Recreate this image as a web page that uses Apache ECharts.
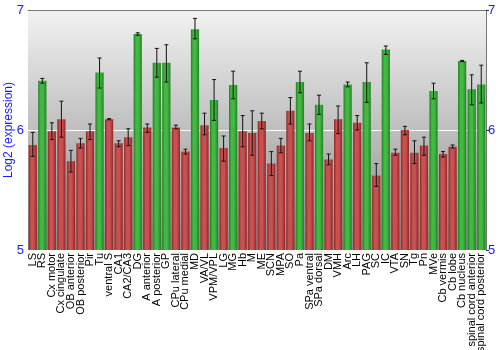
<!DOCTYPE html>
<html><head><meta charset="utf-8">
<script src="https://cdn.jsdelivr.net/npm/echarts@6/dist/echarts.min.js"></script>
<style>html,body{margin:0;padding:0;background:#fff}#c{width:500px;height:350px}</style>
</head><body><div id="c"></div>
<script>
const categories = ["LS","RS","Cx motor","Cx cingulate","OB anterior","OB posterior","Pir","Tu","ventral S","CA1","CA2/CA3","DG","A anterior","A posterior","GP","CPu lateral","CPu medial","MD","VA/VL","VPM/VPL","LG","MG","Hb","M","ME","SCN","MPA","SO","Pa","SPa ventral","SPa dorsal","DM","VMH","Arc","LH","PAG","SC","IC","VTA","SN","Tg","Pn","MVe","Cb vermis","Cb lobe","Cb nucleus","spinal cord anterior","spinal cord posterior"];
const values = [5.875,6.41,5.99,6.09,5.74,5.89,5.99,6.48,6.09,5.89,5.94,6.80,6.02,6.56,6.56,6.02,5.82,6.84,6.04,6.25,5.85,6.375,5.99,5.975,6.075,5.72,5.87,6.16,6.40,5.975,6.21,5.755,6.09,6.38,6.06,6.40,5.62,6.67,5.81,6.00,5.81,5.87,6.325,5.80,5.86,6.575,6.34,6.38];
const errHigh = [5.98,6.43,6.06,6.24,5.83,5.93,6.05,6.60,6.095,5.91,6.01,6.81,6.05,6.68,6.71,6.04,5.84,6.93,6.14,6.42,5.95,6.49,6.12,6.16,6.14,5.82,5.93,6.27,6.49,6.05,6.29,5.80,6.20,6.40,6.12,6.56,5.72,6.70,5.84,6.03,5.91,5.94,6.39,5.82,5.875,6.58,6.46,6.54];
const errLow = [5.78,6.39,5.92,5.94,5.65,5.85,5.92,6.35,6.085,5.86,5.87,6.79,5.98,6.44,6.40,6.01,5.80,6.76,5.96,6.08,5.74,6.26,5.86,5.79,6.01,5.62,5.81,6.05,6.31,5.91,6.13,5.71,5.97,6.36,6.00,6.23,5.53,6.63,5.79,5.96,5.72,5.79,6.26,5.775,5.85,6.57,6.21,6.225];
const groups = ["r","g","r","r","r","r","r","g","r","r","r","g","r","g","g","r","r","g","r","g","r","g","r","r","r","r","r","r","g","r","g","r","r","g","r","g","r","g","r","r","r","r","g","r","r","g","g","g"];
const yTicks = [5,6,7];

function grad(dark, light){
  return {type:'linear',x:0,y:0,x2:1,y2:0,colorStops:[
    {offset:0,color:dark},{offset:0.3,color:light},{offset:0.6,color:light},{offset:1,color:dark}]};
}
const redFill = grad('#932626','#c85252');
const greenFill = grad('#218221','#43b843');

const chart = echarts.init(document.getElementById('c'), null, {renderer:'canvas'});
const blue = '#1a1aff';
chart.setOption({
  animation:false,
  grid:{left:28,right:14,top:10,bottom:100,show:true,borderWidth:0,containLabel:false,outerBoundsMode:'none',
    backgroundColor:{type:'linear',x:0,y:0,x2:0,y2:1,colorStops:[{offset:0,color:'#f2f2f2'},{offset:1,color:'#8a8a8a'}]}},
  xAxis:[{type:'category',data:categories,
    axisLine:{show:false},axisTick:{show:false},
    axisLabel:{rotate:90,interval:0,fontFamily:'Liberation Sans, Arial',fontSize:11,color:'#000',margin:3}},
   {type:'category',position:'top',data:categories,axisLine:{show:true,lineStyle:{color:'#777',width:1}},
    axisTick:{show:false},axisLabel:{show:false}}],
  yAxis:[{type:'value',min:5,max:7,interval:1,
    name:'Log2 (expression)',nameLocation:'middle',nameGap:13,nameMoveOverlap:false,
    nameTextStyle:{color:blue,fontFamily:'Liberation Sans, Arial',fontSize:12},
    axisLine:{show:false},axisTick:{show:false},
    axisLabel:{color:blue,fontFamily:'Liberation Sans, Arial',fontSize:13,margin:4,
      formatter:v=>yTicks.includes(v)?String(v):''},
    splitLine:{show:true,lineStyle:{color:'#ffffff',width:1}}},
   {type:'value',min:5,max:7,interval:1,position:'right',
    axisLine:{show:true,lineStyle:{color:'#777',width:1}},
    axisTick:{show:true,length:3,lineStyle:{color:'#333'}},
    axisLabel:{color:blue,fontFamily:'Liberation Sans, Arial',fontSize:13,margin:2},
    splitLine:{show:false}}],
  series:[{type:'bar',barCategoryGap:'14%',
    data:values.map((v,i)=>({value:v,itemStyle:{color:groups[i]==='g'?greenFill:redFill}}))},
   {type:'custom',
    data:categories.map((c,i)=>[i,errLow[i],errHigh[i]]),
    renderItem:function(params,api){
      const x=api.value(0);
      const lo=api.coord([x,api.value(1)]);
      const hi=api.coord([x,api.value(2)]);
      const cap=2;
      const st={stroke:'#111',lineWidth:1};
      return {type:'group',children:[
        {type:'line',shape:{x1:lo[0],y1:lo[1],x2:hi[0],y2:hi[1]},style:st},
        {type:'line',shape:{x1:lo[0]-cap,y1:lo[1],x2:lo[0]+cap,y2:lo[1]},style:st},
        {type:'line',shape:{x1:hi[0]-cap,y1:hi[1],x2:hi[0]+cap,y2:hi[1]},style:st}]};
    },z:5}]
});
</script></body></html>
